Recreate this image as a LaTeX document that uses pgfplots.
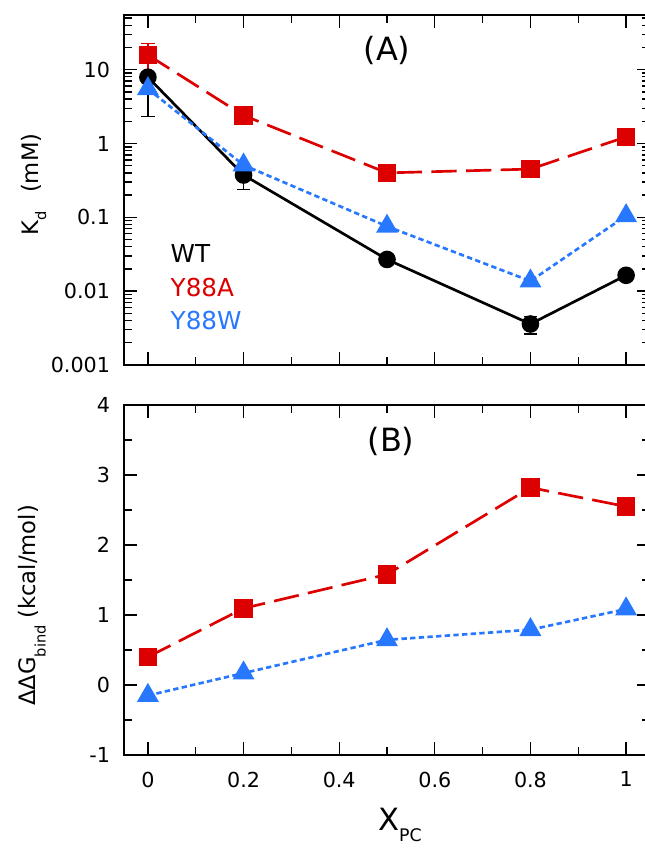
\documentclass[border=0pt]{standalone}
\usepackage{fontspec}
\setmainfont{DejaVu Sans}
\usepackage{pgfplots}
\pgfplotsset{compat=1.18}
\definecolor{myred}{RGB}{221,0,0}
\definecolor{myblue}{RGB}{40,120,255}
\newcommand{\PX}[2]{({(#1)*0.75pt},{(850-(#2))*0.75pt})}
\begin{document}
\begin{tikzpicture}
\pgfplotsset{
  common/.style={
    scale only axis, width=394.5pt, height=262.5pt,
    xmin=-0.05, xmax=1.05,
    xtick={0,0.2,0.4,0.6,0.8,1},
    minor xtick={0.1,0.3,0.5,0.7,0.9},
    tick align=inside,
    major tick length=9.5pt, minor tick length=6pt,
    every tick/.style={line width=1pt, black},
    axis line style={line width=1pt},
    tick label style={font=\fontsize{15.5}{18}\selectfont},
    /pgf/number format/assume math mode=true,
    clip=false,
  },
  wt/.style={black, line width=2pt, mark=*, mark size=5.6pt, mark options={solid}},
  ya/.style={myred, line width=2pt, dash pattern=on 19pt off 7pt, mark=square*, mark size=6pt, mark options={solid}},
  yw/.style={myblue, line width=2pt, dash pattern=on 4pt off 2.5pt, mark=triangle*, mark size=7.5pt, mark options={solid}},
}
% ---------- Panel A ----------
\begin{axis}[common, at={(93pt,363.75pt)}, anchor=south west,
  ymode=log, ymin=0.001, ymax=55,
  ytick={0.001,0.01,0.1,1,10},
  yticklabels={0.001,0.01,0.1,1,10},
  minor ytick={0.002,0.003,0.004,0.005,0.006,0.007,0.008,0.009,
               0.02,0.03,0.04,0.05,0.06,0.07,0.08,0.09,
               0.2,0.3,0.4,0.5,0.6,0.7,0.8,0.9,
               2,3,4,5,6,7,8,9,20,30,40,50},
  xticklabels={},
  yticklabel style={xshift=-7pt},
]
\addplot[wt] coordinates {(0,7.9) (0.2,0.374) (0.5,0.0269) (0.8,0.00359) (1,0.0164)};
\addplot[yw] coordinates {(0,5.5) (0.2,0.51) (0.5,0.0755) (0.8,0.0137) (1,0.105)};
\addplot[ya] coordinates {(0,15.8) (0.2,2.4) (0.5,0.40) (0.8,0.45) (1,1.23)};
\addplot[black, line width=1pt, draw=none, mark=none, forget plot,
  error bars/.cd, y dir=both, y explicit,
  error bar style={line width=1pt, black},
  error mark options={rotate=90, mark size=5pt, line width=1pt, black}]
  coordinates {(0,7.9) +- (0,5.6) (0.2,0.374) +- (0,0.138) (0.8,0.00359) +- (0,0.00096)};
\addplot[myred, line width=1pt, draw=none, mark=none, forget plot,
  error bars/.cd, y dir=both, y explicit,
  error bar style={line width=1pt, myred},
  error mark options={rotate=90, mark size=5pt, line width=1pt, myred}]
  coordinates {(0,15.8) +- (0,6.8)};
\end{axis}
% ---------- Panel B ----------
\begin{axis}[common, at={(93pt,71.25pt)}, anchor=south west,
  ymin=-1, ymax=4,
  ytick={-1,0,1,2,3,4},
  minor ytick={-0.5,0.5,1.5,2.5,3.5},
  yticklabel style={xshift=-7pt},
  xticklabel style={yshift=-9pt},
]
\addplot[yw] coordinates {(0,-0.15) (0.2,0.17) (0.5,0.645) (0.8,0.79) (1,1.085)};
\addplot[ya] coordinates {(0,0.40) (0.2,1.095) (0.5,1.58) (0.8,2.82) (1,2.55)};
\end{axis}
% ---------- Texts ----------
\node[font=\fontsize{24}{28}\selectfont] at \PX{387}{50} {(A)};
\node[font=\fontsize{24}{28}\selectfont] at \PX{391}{441} {(B)};
\node[anchor=west, font=\fontsize{18.5}{22}\selectfont, black] at \PX{166}{254} {WT};
\node[anchor=west, font=\fontsize{18.5}{22}\selectfont, myred] at \PX{166}{288} {Y88A};
\node[anchor=west, font=\fontsize{18.5}{22}\selectfont, myblue] at \PX{166}{321} {Y88W};
\node[anchor=base, font=\fontsize{23}{26}\selectfont, inner sep=0pt] at \PX{400}{831}
  {X\raisebox{-8pt}{\fontsize{13}{16}\selectfont PC}};
\node[rotate=90, anchor=base west, inner sep=0pt, font=\fontsize{17}{20}\selectfont] at \PX{38}{236}
  {K\raisebox{-6pt}{\fontsize{11}{13}\selectfont d}\hspace{14pt}(mM)};
\node[rotate=90, anchor=base west, inner sep=0pt, font=\fontsize{17}{20}\selectfont] at \PX{35}{706}
  {ΔΔG\raisebox{-8pt}{\fontsize{11}{13}\selectfont bind}\hspace{5pt}(kcal/mol)};
\pgfresetboundingbox
\path[use as bounding box] (0,0) rectangle (483pt,637.5pt);
\end{tikzpicture}
\end{document}
